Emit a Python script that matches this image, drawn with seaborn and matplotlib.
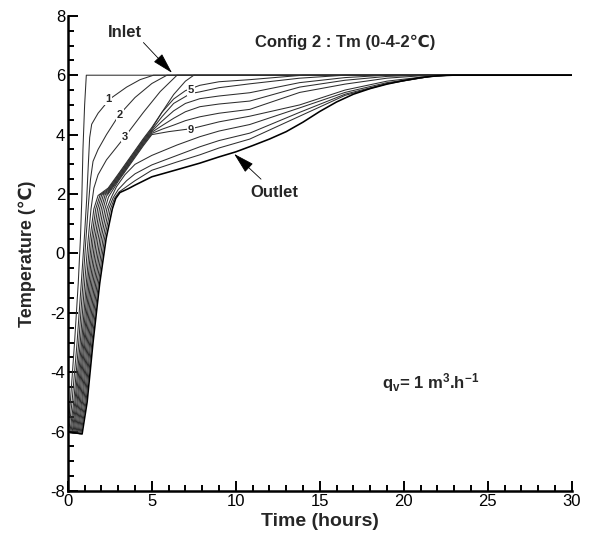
import matplotlib
matplotlib.use("Agg")
import matplotlib.pyplot as plt
import seaborn as sns
from matplotlib.ticker import MultipleLocator

# ---- data (time in hours, temperature in degC) ----
inlet_t = [0, 0.15, 0.4, 0.62, 0.75, 0.83, 0.9, 1.0, 1.1, 30]
inlet_T = [-6, -5, -3, -1, 0.5, 1.8, 3.5, 5.0, 6, 6]

c1_t = [0, 0.05, 0.25, 0.55, 0.8, 0.98, 1.12, 1.22, 1.3, 1.42, 1.8, 2.5, 3.5, 4.3, 5.1, 30]
c1_T = [-6, -6.03, -5, -3, -1, 0.5, 1.8, 3.0, 3.9, 4.35, 4.72, 5.2, 5.6, 5.85, 6, 6]

c2_t = [0, 0.12, 0.35, 0.65, 0.9, 1.08, 1.22, 1.35, 1.5, 1.8, 2.3, 3.05, 4.0, 5.0, 5.9, 30]
c2_T = [-6, -6.04, -5, -3, -1, 0.5, 1.6, 2.5, 3.1, 3.5, 4.0, 4.66, 5.25, 5.72, 6, 6]

c3_t = [0, 0.18, 0.42, 0.74, 1.0, 1.2, 1.38, 1.55, 1.8, 2.3, 3.4, 4.5, 5.5, 6.5, 30]
c3_T = [-6, -6.05, -5, -3, -1, 0.4, 1.5, 2.2, 2.65, 3.15, 3.93, 4.75, 5.45, 6, 6]

c4_t = [0, 0.25, 0.48, 0.82, 1.1, 1.32, 1.55, 1.8, 2.4, 3.0, 3.5, 4.0, 4.5, 5.0, 5.6, 6.3, 7.0, 7.5, 30]
c4_T = [-6, -6.05, -5, -3, -1, 0.5, 1.5, 1.95, 2.2, 2.67, 3.07, 3.47, 3.87, 4.24, 4.75, 5.35, 5.8, 6, 6]

c5_t = [0, 0.3, 0.55, 0.89, 1.18, 1.42, 1.66, 1.92, 2.4, 3.0, 3.5, 4.0, 4.5, 5.0, 5.6, 6.3, 7.0, 7.86, 9.0, 10.83, 12.5, 14.0, 30]
c5_T = [-6, -6.05, -5, -3, -1, 0.5, 1.5, 1.97, 2.16, 2.63, 3.03, 3.43, 3.83, 4.2, 4.75, 5.2, 5.48, 5.66, 5.78, 5.85, 5.93, 6, 6]

c6_t = [0, 0.36, 0.61, 0.96, 1.26, 1.51, 1.77, 2.02, 2.4, 3.0, 3.5, 4.0, 4.5, 5.0, 5.6, 6.3, 7.3, 7.86, 9.0, 10.83, 13.8, 16.5, 30]
c6_T = [-6, -6.05, -5, -3, -1, 0.5, 1.5, 1.98, 2.12, 2.59, 2.99, 3.39, 3.79, 4.16, 4.6, 5.05, 5.38, 5.44, 5.58, 5.71, 5.9, 6, 6]

c7_t = [0, 0.42, 0.68, 1.02, 1.34, 1.61, 1.88, 2.12, 2.4, 3.0, 3.5, 4.0, 4.5, 5.0, 5.6, 6.3, 7.0, 7.86, 9.0, 10.83, 13.8, 16.5, 19.0, 30]
c7_T = [-6, -6.05, -5, -3, -1, 0.5, 1.5, 1.98, 2.08, 2.55, 2.95, 3.35, 3.75, 4.12, 4.45, 4.8, 5.05, 5.21, 5.3, 5.41, 5.75, 5.92, 6, 6]

c8_t = [0, 0.48, 0.75, 1.09, 1.42, 1.7, 1.99, 2.22, 2.4, 3.0, 3.5, 4.0, 4.5, 5.0, 5.6, 6.3, 7.0, 7.86, 9.0, 10.83, 13.8, 16.5, 19.0, 21.0, 30]
c8_T = [-6, -6.06, -5, -3, -1, 0.5, 1.5, 1.97, 2.04, 2.51, 2.91, 3.31, 3.71, 4.08, 4.3, 4.55, 4.77, 4.94, 5.03, 5.13, 5.6, 5.83, 5.96, 6, 6]

c9_t = [0, 0.54, 0.82, 1.16, 1.5, 1.8, 2.1, 2.3, 2.4, 3.0, 3.5, 4.0, 4.5, 5.0, 5.6, 6.3, 7.0, 7.86, 9.0, 10.83, 13.8, 16.5, 19.0, 21.5, 30]
c9_T = [-6, -6.06, -5, -3, -1, 0.5, 1.5, 1.93, 2.0, 2.47, 2.87, 3.27, 3.67, 4.04, 4.18, 4.32, 4.47, 4.6, 4.72, 4.85, 5.42, 5.7, 5.9, 6, 6]

c10_t = [0, 0.6, 0.88, 1.23, 1.58, 1.9, 2.21, 2.42, 3.0, 3.5, 4.0, 4.5, 5.0, 6.0, 7.35, 7.86, 9.0, 10.83, 13.8, 16.5, 19.0, 22.0, 30]
c10_T = [-6, -6.06, -5, -3, -1, 0.5, 1.5, 1.9, 2.43, 2.83, 3.23, 3.63, 4.0, 4.1, 4.2, 4.27, 4.43, 4.62, 5.0, 5.5, 5.8, 6, 6]

c11_t = [0, 0.66, 0.95, 1.3, 1.66, 1.99, 2.32, 2.6, 2.9, 3.4, 4.0, 5.0, 6.5, 7.86, 9.0, 10.83, 13.8, 16.5, 19.0, 21.5, 22.5, 30]
c11_T = [-6, -6.06, -5, -3, -1, 0.5, 1.5, 1.9, 2.25, 2.65, 3.0, 3.3, 3.65, 3.93, 4.12, 4.34, 4.9, 5.42, 5.75, 5.95, 6, 6]

c12_t = [0, 0.72, 1.02, 1.36, 1.74, 2.09, 2.43, 2.7, 3.0, 3.5, 4.0, 5.0, 6.5, 7.86, 9.0, 10.83, 13.8, 16.5, 19.0, 21.5, 22.7, 30]
c12_T = [-6, -6.07, -5, -3, -1, 0.5, 1.5, 1.88, 2.15, 2.45, 2.68, 2.98, 3.3, 3.59, 3.8, 4.05, 4.75, 5.36, 5.72, 5.95, 6, 6]

c13_t = [0, 0.78, 1.08, 1.43, 1.82, 2.18, 2.54, 2.78, 3.05, 3.5, 4.0, 5.0, 6.5, 7.86, 9.0, 10.83, 13.8, 16.5, 19.0, 21.5, 22.8, 30]
c13_T = [-6, -6.07, -5, -3, -1, 0.5, 1.5, 1.86, 2.07, 2.25, 2.45, 2.8, 3.08, 3.32, 3.55, 3.85, 4.62, 5.32, 5.71, 5.95, 6, 6]

outlet_t = [0, 0.85, 1.15, 1.5, 1.9, 2.28, 2.65, 2.85, 3.1, 3.6, 4.0, 5.0, 6.5, 7.86, 9.0, 10.0,
            11.0, 12.0, 13.0, 14.0, 15.0, 16.0, 17.0, 18.0, 19.0, 20.0, 21.0, 22.0, 22.9, 30]
outlet_T = [-6, -6.08, -5, -3, -1, 0.5, 1.5, 1.85, 2.05, 2.18, 2.3, 2.58, 2.82, 3.04, 3.25, 3.42,
            3.63, 3.85, 4.1, 4.42, 4.78, 5.1, 5.36, 5.55, 5.7, 5.82, 5.92, 5.98, 6.0, 6]

curves = [
    (inlet_t, inlet_T), (c1_t, c1_T), (c2_t, c2_T), (c3_t, c3_T), (c4_t, c4_T),
    (c5_t, c5_T), (c6_t, c6_T), (c7_t, c7_T), (c8_t, c8_T), (c9_t, c9_T),
    (c10_t, c10_T), (c11_t, c11_T), (c12_t, c12_T), (c13_t, c13_T),
]

# curve number labels sitting on the lines
num_labels = ["1", "2", "3", "5", "9"]
num_t = [2.4, 3.1, 3.39, 7.32, 7.32]
num_T = [5.2, 4.66, 3.93, 5.5, 4.15]

# ---- style ----
sns.set_style("ticks")
plt.rcParams["font.family"] = ["Liberation Sans", "DejaVu Sans"]
plt.rcParams["axes.unicode_minus"] = False
plt.rcParams["mathtext.fontset"] = "custom"
plt.rcParams["mathtext.bf"] = "Liberation Sans:bold"
plt.rcParams["mathtext.rm"] = "Liberation Sans:bold"
plt.rcParams["mathtext.default"] = "bf"

fig = plt.figure(figsize=(5.95, 5.45), dpi=100)
ax = fig.add_axes([0.114, 0.099, 0.847, 0.872])

for t, T in curves:
    sns.lineplot(x=t, y=T, ax=ax, color="#2e2e2e", lw=0.75, sort=False, estimator=None)
sns.lineplot(x=outlet_t, y=outlet_T, ax=ax, color="black", lw=1.15, sort=False, estimator=None)

for lab, t, T in zip(num_labels, num_t, num_T):
    ax.text(t, T, lab, fontsize=8, fontweight="bold", ha="center", va="center", zorder=5,
            bbox=dict(facecolor="white", edgecolor="none", pad=0.6))

arrow = dict(arrowstyle="-|>,head_length=1.1,head_width=0.3", color="black", lw=0.6,
             mutation_scale=12, shrinkA=0, shrinkB=0)
ax.text(3.4, 7.45, "Inlet", fontsize=12, fontweight="bold", ha="center", va="center")
ax.annotate("", xy=(6.2, 6.08), xytext=(4.5, 7.1), arrowprops=arrow)
ax.text(12.3, 2.04, "Outlet", fontsize=12, fontweight="bold", ha="center", va="center")
ax.annotate("", xy=(9.9, 3.35), xytext=(11.5, 2.5), arrowprops=arrow)

ax.text(16.5, 7.12, "Config 2 : Tm (0-4-2\u2103)", fontsize=12, fontweight="bold",
        ha="center", va="center", family=["Liberation Sans", "DejaVu Sans"])
ax.text(21.6, -4.36, r"q$_v$= 1 m$^3$.h$^{-1}$", fontsize=12, fontweight="bold",
        ha="center", va="center")

ax.set_xlim(0, 30)
ax.set_ylim(-8, 8)
ax.xaxis.set_major_locator(MultipleLocator(5))
ax.xaxis.set_minor_locator(MultipleLocator(1))
ax.yaxis.set_major_locator(MultipleLocator(2))
ax.yaxis.set_minor_locator(MultipleLocator(0.5))
ax.tick_params(which="both", direction="in", width=1.4, colors="black", labelsize=12, pad=2)
ax.tick_params(which="major", length=7)
ax.tick_params(which="minor", length=4)

sns.despine(ax=ax)
for s in ["left", "bottom"]:
    ax.spines[s].set_linewidth(1.8)
    ax.spines[s].set_color("black")

ax.set_xlabel("Time (hours)", fontsize=14, fontweight="bold", labelpad=3)
ax.set_ylabel("Temperature (\u2103)", fontsize=13, fontweight="bold", labelpad=10)

fig.savefig("out.png", dpi=100)
